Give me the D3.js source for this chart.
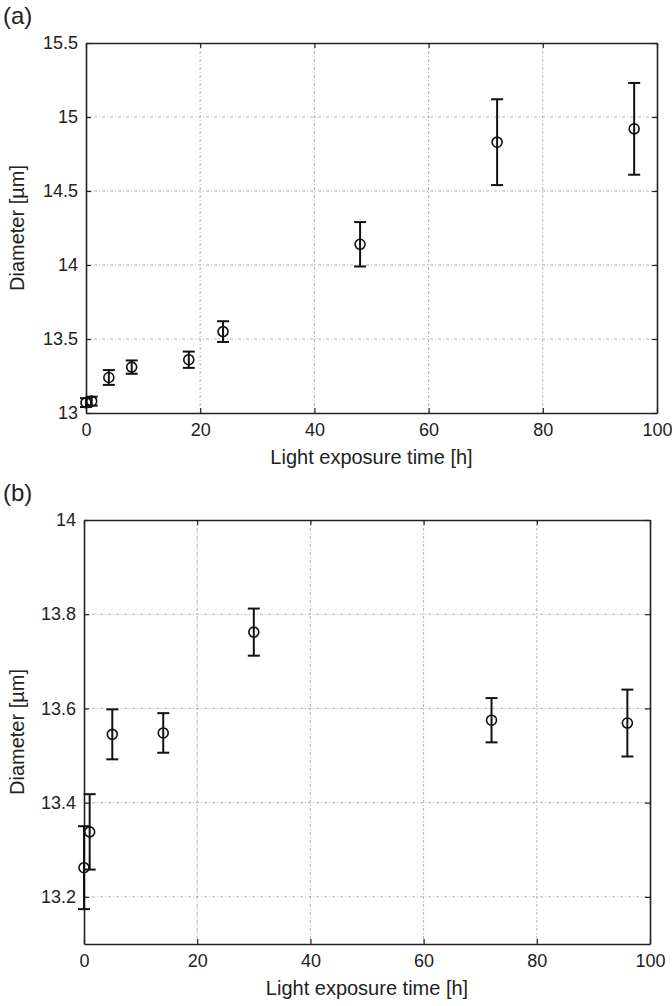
<!DOCTYPE html>
<html>
<head>
<meta charset="utf-8">
<script src="https://cdn.jsdelivr.net/npm/d3@7"></script>
<style>
  body { margin: 0; background: #fff; }
  svg text { font-family: "Liberation Sans", Arial, sans-serif; fill: #222; }
</style>
</head>
<body>
<div id="plot"></div>
<script>
// panel (a)
var hoursA = [0, 1, 4, 8, 18, 24, 48, 72, 96];
var diamA = [13.07, 13.08, 13.24, 13.31, 13.36, 13.55, 14.14, 14.83, 14.92];
var errA = [0.03, 0.03, 0.05, 0.045, 0.055, 0.07, 0.15, 0.29, 0.31];
var xTicksA = [0, 20, 40, 60, 80, 100];
var yTicksA = [13, 13.5, 14, 14.5, 15, 15.5];

// panel (b)
var hoursB = [0, 1, 5, 14, 30, 72, 96];
var diamB = [13.262, 13.338, 13.545, 13.548, 13.762, 13.575, 13.569];
var errB = [0.088, 0.08, 0.053, 0.042, 0.05, 0.047, 0.071];
var xTicksB = [0, 20, 40, 60, 80, 100];
var yTicksB = [13.2, 13.4, 13.6, 13.8, 14];

var svg = d3.select("#plot").append("svg")
  .attr("width", 672)
  .attr("height", 1006);

function panel(opt) {
  var xScale = d3.scaleLinear().domain([0, 100]).range([opt.left, opt.right]);
  var yScale = d3.scaleLinear().domain(opt.yDomain).range([opt.bottom, opt.top]);
  var g = svg.append("g");

  // dash-dot grid
  g.selectAll(".vgrid").data(opt.xTicks.slice(1, -1)).enter().append("line")
    .attr("x1", function(d) { return xScale(d); })
    .attr("x2", function(d) { return xScale(d); })
    .attr("y1", opt.top).attr("y2", opt.bottom)
    .attr("stroke", "#aaa").attr("stroke-width", 0.9)
    .attr("stroke-dasharray", "3,2,1,2");
  g.selectAll(".hgrid").data(opt.yTicks.filter(function(d) {
      return d > opt.yDomain[0] && d < opt.yDomain[1];
    })).enter().append("line")
    .attr("x1", opt.left).attr("x2", opt.right)
    .attr("y1", function(d) { return yScale(d); })
    .attr("y2", function(d) { return yScale(d); })
    .attr("stroke", "#aaa").attr("stroke-width", 0.9)
    .attr("stroke-dasharray", "3,2,1,2");

  // axes, ticks pointing inward
  var xAxis = d3.axisBottom(xScale).tickValues(opt.xTicks).tickSizeInner(-5).tickSizeOuter(0).tickPadding(10);
  var yAxis = d3.axisLeft(yScale).tickValues(opt.yTicks).tickSizeInner(-5).tickSizeOuter(0).tickPadding(8)
    .tickFormat(d3.format("~g"));
  var xTop = d3.axisTop(xScale).tickValues(opt.xTicks).tickSizeInner(-5).tickSizeOuter(0).tickFormat("");
  var yRight = d3.axisRight(yScale).tickValues(opt.yTicks).tickSizeInner(-5).tickSizeOuter(0).tickFormat("");

  g.append("g").attr("transform", "translate(0," + opt.bottom + ")").call(xAxis);
  g.append("g").attr("transform", "translate(" + opt.left + ",0)").call(yAxis);
  g.append("g").attr("transform", "translate(0," + opt.top + ")").call(xTop);
  g.append("g").attr("transform", "translate(" + opt.right + ",0)").call(yRight);
  g.selectAll(".domain").attr("stroke", "#222").attr("stroke-width", 1.6);
  g.selectAll(".tick line").attr("stroke", "#222").attr("stroke-width", 1.2);
  g.selectAll(".tick text").attr("font-size", 18).attr("fill", "#222");

  // error bars
  var pts = opt.x.map(function(d, i) { return { x: d, y: opt.y[i], e: opt.e[i] }; });
  var eb = g.selectAll(".eb").data(pts).enter().append("g");
  eb.append("line")
    .attr("x1", function(d) { return xScale(d.x); })
    .attr("x2", function(d) { return xScale(d.x); })
    .attr("y1", function(d) { return yScale(d.y - d.e); })
    .attr("y2", function(d) { return yScale(d.y + d.e); })
    .attr("stroke", "#111").attr("stroke-width", 2);
  [-1, 1].forEach(function(s) {
    eb.append("line")
      .attr("x1", function(d) { return xScale(d.x) - 6; })
      .attr("x2", function(d) { return xScale(d.x) + 6; })
      .attr("y1", function(d) { return yScale(d.y + s * d.e); })
      .attr("y2", function(d) { return yScale(d.y + s * d.e); })
      .attr("stroke", "#111").attr("stroke-width", 2);
  });
  eb.append("circle")
    .attr("cx", function(d) { return xScale(d.x); })
    .attr("cy", function(d) { return yScale(d.y); })
    .attr("r", 5)
    .attr("fill", "none").attr("stroke", "#111").attr("stroke-width", 1.6);

  // labels
  svg.append("text").attr("x", 3).attr("y", opt.top - 19)
    .attr("font-size", 24).text(opt.tag);
  svg.append("text").attr("x", (opt.left + opt.right) / 2).attr("y", opt.bottom + 51)
    .attr("text-anchor", "middle").attr("font-size", 20).text("Light exposure time [h]");
  svg.append("text")
    .attr("transform", "translate(24," + (opt.top + opt.bottom) / 2 + ") rotate(-90)")
    .attr("text-anchor", "middle").attr("font-size", 20).text("Diameter [µm]");
}

panel({ tag: "(a)", left: 86, right: 657, top: 43, bottom: 413,
  yDomain: [13, 15.5], xTicks: xTicksA, yTicks: yTicksA, x: hoursA, y: diamA, e: errA });
panel({ tag: "(b)", left: 84, right: 650, top: 520, bottom: 944,
  yDomain: [13.1, 14], xTicks: xTicksB, yTicks: yTicksB, x: hoursB, y: diamB, e: errB });
</script>
</body>
</html>
